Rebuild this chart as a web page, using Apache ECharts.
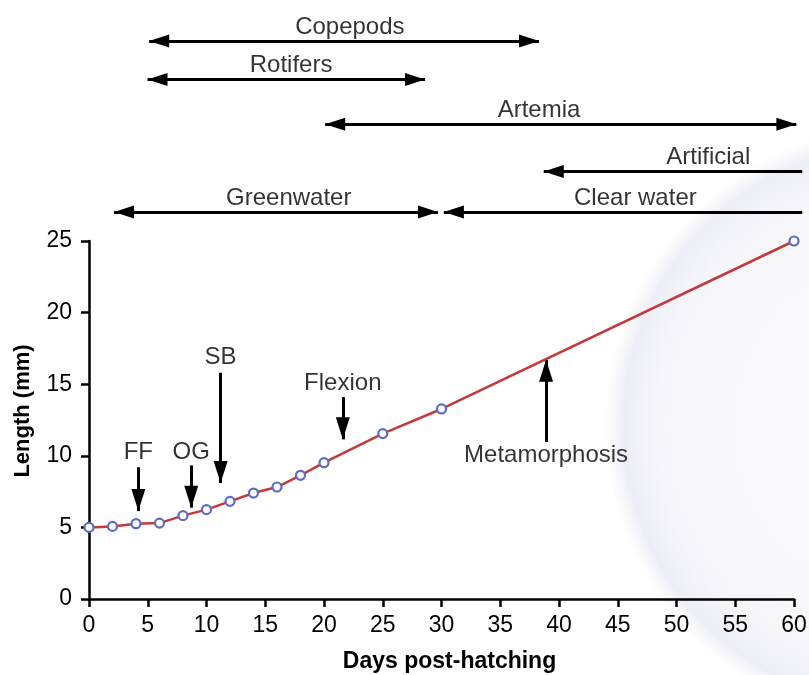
<!DOCTYPE html>
<html>
<head>
<meta charset="utf-8">
<script src="https://cdn.jsdelivr.net/npm/echarts@6/dist/echarts.min.js"></script>
<style>
  html, body { margin: 0; padding: 0; background: #ffffff; }
  #chart { width: 809px; height: 675px; }
</style>
</head>
<body>
<div id="chart"></div>
<script>
// Larval growth: body length against age
const days      = [0, 2, 4, 6, 8, 10, 12, 14, 16, 18, 20, 25, 30, 60];
const lengthMm  = [5.0, 5.07, 5.26, 5.3, 5.82, 6.24, 6.82, 7.4, 7.82, 8.64, 9.52, 11.55, 13.27, 25];

// Feeding / rearing regimes shown as spans above the plot (in days)
const feedNames  = ['Copepods', 'Rotifers', 'Artemia', 'Artificial', 'Greenwater', 'Clear water'];
const feedStart  = [5.12, 4.98, 20.1, 38.7, 2.13, 30.2];
const feedEnd    = [38.3, 28.6, 60.2, 60.7, 29.7, 60.7];
const feedRow    = [4, 3.1, 2.05, 0.95, 0, 0];
const feedLabelX = [22.2, 17.2, 38.3, 52.7, 17.0, 46.5];
// which ends carry an arrow head: [start, end]
const feedHeads  = [[true, true], [true, true], [true, true],
                    [true, false], [true, true], [true, false]];

// Developmental milestones: arrow from the label towards the growth curve
const stageNames  = ['FF', 'OG', 'SB', 'Flexion', 'Metamorphosis'];
const stageDay    = [4.2, 8.7, 11.2, 21.6, 38.9];
const stageFrom   = [9.2, 9.33, 15.8, 14.1, 10.97];
const stageTo     = [6.14, 6.38, 8.1, 11.15, 16.7];
const stageLabelY = [10.27, 10.27, 16.9, 15.07, 10.03];

const FONT = '"Liberation Sans", Arial, Helvetica, sans-serif';
const HEAD = 'triangle';

// plot area in pixels; the span band uses the same day scale but runs to the page edge
const PAGE_W = 809, GRID_LEFT = 89, GRID_RIGHT = 15, DAY_MAX = 60;
const bandDayMax = DAY_MAX * (PAGE_W - GRID_LEFT) / (PAGE_W - GRID_LEFT - GRID_RIGHT);

const chart = echarts.init(document.getElementById('chart'), null, { renderer: 'canvas' });

const feedLines = feedNames.map((n, i) => [
  { coord: [feedStart[i], feedRow[i]], symbol: feedHeads[i][0] ? HEAD : 'none' },
  { coord: [feedEnd[i], feedRow[i]],   symbol: feedHeads[i][1] ? HEAD : 'none' }
]);

const stageLines = stageNames.map((n, i) => [
  { coord: [stageDay[i], stageFrom[i]], symbol: 'none' },
  { coord: [stageDay[i], stageTo[i]], symbol: HEAD }
]);

const option = {
  animation: false,
  backgroundColor: '#ffffff',
  graphic: [{
    type: 'circle',
    z: -10,
    silent: true,
    shape: { cx: 905, cy: 425, r: 300 },
    style: {
      fill: {
        type: 'radial', x: 0.5, y: 0.5, r: 0.5,
        colorStops: [
          { offset: 0, color: '#fcfcfe' },
          { offset: 0.8, color: '#f7f7fb' },
          { offset: 0.94, color: '#eeeef7' },
          { offset: 1, color: 'rgba(240,240,248,0)' }
        ]
      }
    }
  }],
  grid: [
    { left: GRID_LEFT, right: GRID_RIGHT, top: 241, bottom: 76, containLabel: false, outerBoundsMode: 'none' },
    { left: GRID_LEFT, right: 0, top: 41, height: 171, containLabel: false, outerBoundsMode: 'none' }
  ],
  xAxis: [{
    gridIndex: 0,
    type: 'value', min: 0, max: DAY_MAX, interval: 5,
    name: 'Days post-hatching',
    nameLocation: 'middle',
    nameGap: 51,
    nameTextStyle: { fontFamily: FONT, fontSize: 23, fontWeight: 'bold', color: '#000', padding: [0, 0, 0, 16] },
    axisLine: { lineStyle: { color: '#000', width: 2.5 } },
    axisTick: { show: true, length: 8, lineStyle: { color: '#000', width: 2.5 } },
    axisLabel: { fontFamily: FONT, fontSize: 23, color: '#000', margin: 15 },
    splitLine: { show: false }
  }, {
    gridIndex: 1, type: 'value', min: 0, max: bandDayMax, show: false
  }],
  yAxis: [{
    gridIndex: 0,
    type: 'value', min: 0, max: 25, interval: 5,
    name: 'Length (mm)',
    nameLocation: 'middle',
    nameRotate: 90,
    nameGap: 55,
    nameTextStyle: { fontFamily: FONT, fontSize: 22, fontWeight: 'bold', color: '#000', padding: [0, 0, 0, 18] },
    axisLine: { show: true, lineStyle: { color: '#000', width: 2.5 } },
    axisTick: { show: true, length: 8, lineStyle: { color: '#000', width: 2.5 } },
    axisLabel: { fontFamily: FONT, fontSize: 23, color: '#000', margin: 17 },
    splitLine: { show: false }
  }, {
    gridIndex: 1, type: 'value', min: 0, max: 4, show: false
  }],
  series: [
    {
      name: 'Length',
      type: 'line',
      xAxisIndex: 0, yAxisIndex: 0,
      data: days.map((d, i) => [d, lengthMm[i]]),
      symbol: 'circle',
      symbolSize: 9,
      lineStyle: { color: '#c23a3a', width: 2.5 },
      itemStyle: { color: '#ffffff', borderColor: '#5b6cc4', borderWidth: 2.2 },
      z: 5
    },
    {
      name: 'Stages',
      type: 'scatter',
      xAxisIndex: 0, yAxisIndex: 0,
      clip: false,
      symbolSize: 0,
      data: stageNames.map((n, i) => ({ value: [stageDay[i], stageLabelY[i]], name: n })),
      label: {
        show: true, position: 'inside',
        formatter: p => p.name,
        fontFamily: FONT, fontSize: 24, color: '#000'
      },
      markLine: {
        silent: true,
        symbolSize: [14, 22],
        symbolOffset: [[0, 11], [0, 11]],
        label: { show: false },
        emphasis: { disabled: true },
        lineStyle: { color: '#000', width: 3, type: 'solid' },
        data: stageLines
      },
      z: 6
    },
    {
      name: 'Feeding',
      type: 'scatter',
      xAxisIndex: 1, yAxisIndex: 1,
      clip: false,
      symbolSize: 0,
      data: feedNames.map((n, i) => ({ value: [feedLabelX[i], feedRow[i]], name: n })),
      label: {
        show: true, position: 'top', distance: 2,
        formatter: p => p.name,
        fontFamily: FONT, fontSize: 24, color: '#000'
      },
      markLine: {
        silent: true,
        symbolSize: [13, 20],
        symbolOffset: [[0, 10], [0, 10]],
        label: { show: false },
        emphasis: { disabled: true },
        lineStyle: { color: '#000', width: 3, type: 'solid' },
        data: feedLines
      },
      z: 6
    }
  ]
};

chart.setOption(option);
</script>
</body>
</html>
